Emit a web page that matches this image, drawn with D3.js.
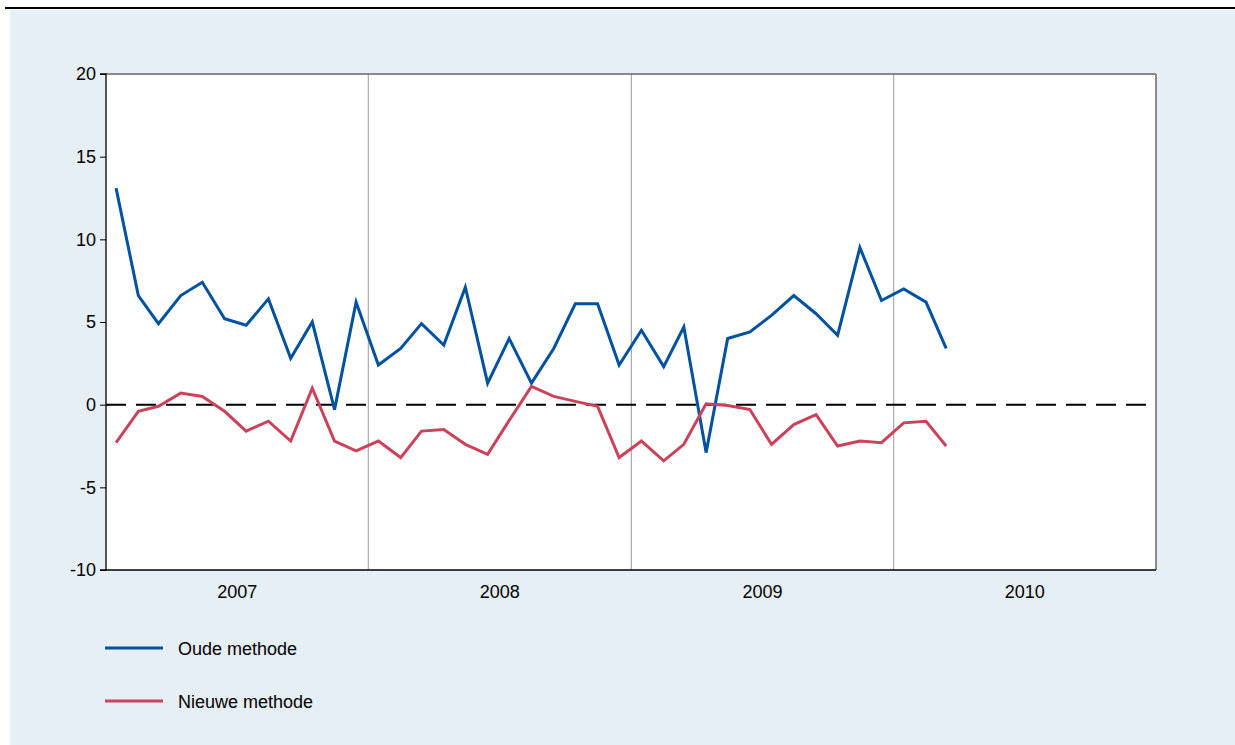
<!DOCTYPE html>
<html><head><meta charset="utf-8">
<script src="https://cdn.jsdelivr.net/npm/d3@7"></script>
<style>body{margin:0;background:#fff}svg{display:block}text{font-family:"Liberation Sans",Arial,sans-serif}</style>
</head><body><svg id="c" width="1235" height="745"></svg>
<script>
const months = d3.range(39).map(i => new Date(2007, i, 15));
const oudeMethode = [13.1,6.6,4.9,6.6,7.4,5.2,4.8,6.4,2.8,5.0,-0.3,6.2,
  2.4,3.4,4.9,3.6,7.1,1.3,4.0,1.3,3.4,6.1,6.1,2.4,
  4.5,2.3,4.7,-2.9,4.0,4.4,5.4,6.6,5.5,4.2,9.5,6.3,
  7.0,6.2,3.4];
const nieuweMethode = [-2.3,-0.4,-0.1,0.7,0.5,-0.4,-1.6,-1.0,-2.2,1.0,-2.2,-2.8,
  -2.2,-3.2,-1.6,-1.5,-2.4,-3.0,-0.95,1.1,0.5,0.2,-0.1,-3.2,
  -2.2,-3.4,-2.4,0.05,-0.05,-0.3,-2.4,-1.2,-0.6,-2.5,-2.2,-2.3,
  -1.1,-1.0,-2.5];
const yTicks = [-10,-5,0,5,10,15,20];
const years = [2007,2008,2009,2010];
const seriesNames = ["Oude methode","Nieuwe methode"];
const colors = ["#00529f","#c9435b"];

const svg = d3.select("#c");
svg.append("rect").attr("x",10).attr("y",10).attr("width",1225).attr("height",735).attr("fill","#e6eef6");
svg.append("line").attr("x1",5).attr("x2",1235).attr("y1",8).attr("y2",8).attr("stroke","#000").attr("stroke-width",2);

const L=106,R=1156,T=74,B=570;
const x = d3.scaleTime().domain([new Date(2007,0,1), new Date(2011,0,1)]).range([L,R]);
const y = d3.scaleLinear().domain([-10,20]).range([B,T]);

svg.append("rect").attr("x",L).attr("y",T).attr("width",R-L).attr("height",B-T).attr("fill","#fff");

// year grid lines
svg.append("g").selectAll("line").data(years.slice(1)).join("line")
  .attr("x1",d=>x(new Date(d,0,1))).attr("x2",d=>x(new Date(d,0,1)))
  .attr("y1",T).attr("y2",B).attr("stroke","#aaa").attr("stroke-width",1.2);

// borders
svg.append("line").attr("x1",L).attr("x2",R).attr("y1",T).attr("y2",T).attr("stroke","#666").attr("stroke-width",1.5);
svg.append("line").attr("x1",R).attr("x2",R).attr("y1",T).attr("y2",B).attr("stroke","#8a8a8a").attr("stroke-width",2);

// zero dashed line
svg.append("line").attr("x1",L).attr("x2",R).attr("y1",y(0)).attr("y2",y(0))
  .attr("stroke","#000").attr("stroke-width",2).attr("stroke-dasharray","20,10");

// y axis
const ya = svg.append("g").attr("transform",`translate(${L},0)`)
  .call(d3.axisLeft(y).tickValues(yTicks).tickSize(6).tickPadding(4).tickFormat(d => String(d)));
ya.select(".domain").attr("stroke","#000").attr("stroke-width",1.3).attr("d",`M-6,${T}H0V${B}H-6`);
ya.selectAll(".tick line").attr("stroke","#000");
ya.selectAll("text").attr("font-size",18).attr("fill","#000").style("font-family","Liberation Sans, Arial");

// x axis
svg.append("line").attr("x1",L).attr("x2",R).attr("y1",B).attr("y2",B).attr("stroke","#000").attr("stroke-width",1.5);
svg.append("g").selectAll("text").data(years).join("text")
  .attr("x",d=>(x(new Date(d,0,1))+x(new Date(d+1,0,1)))/2).attr("y",598)
  .attr("text-anchor","middle").attr("font-size",18).attr("fill","#000").text(d=>d);

// lines
const line = d3.line().x((d,i)=>x(months[i])).y(d=>y(d));
[oudeMethode,nieuweMethode].forEach((s,k)=>{
  svg.append("path").datum(s).attr("d",line).attr("fill","none")
    .attr("stroke",colors[k]).attr("stroke-width",3).attr("stroke-linejoin","miter");
});

// legend
const lg = svg.append("g").selectAll("g").data(seriesNames).join("g")
  .attr("transform",(d,i)=>`translate(105,${648+i*53})`);
lg.append("line").attr("x1",0).attr("x2",58).attr("y1",0).attr("y2",0)
  .attr("stroke",(d,i)=>colors[i]).attr("stroke-width",3);
lg.append("text").attr("x",73).attr("y",6.5).attr("font-size",18).attr("fill","#000").text(d=>d);
</script></body></html>
